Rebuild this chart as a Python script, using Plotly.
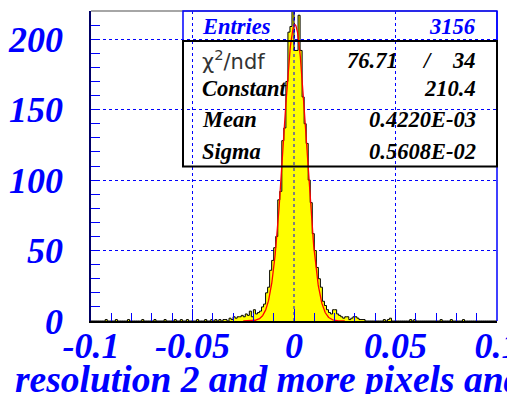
import numpy as np
import plotly.graph_objects as go

# histogram: 200 bins of 0.001 from -0.1 to 0.1
X_MIN, X_MAX, N_BINS = -0.1, 0.1, 200
counts = [
    0, 0, 0, 0, 0, 0, 0, 1, 0, 0,
    0, 0, 1, 0, 0, 0, 0, 0, 1, 0,
    0, 0, 0, 0, 0, 1, 0, 0, 0, 0,
    0, 1, 0, 0, 0, 0, 1, 0, 0, 0,
    0, 1, 0, 0, 1, 0, 0, 1, 0, 0,
    0, 0, 1, 0, 0, 0, 1, 0, 0, 1,
    0, 1, 0, 1, 0, 1, 1, 0, 2, 1,
    3, 2, 3, 3, 4, 3, 5, 4, 7, 3,
    8, 5, 6, 7, 10, 12, 20, 24, 36, 43,
    52, 60, 86, 92, 128, 137, 170, 205, 209, 226,
    192, 192, 217, 192, 159, 140, 126, 100, 84, 62,
    50, 38, 30, 24, 14, 11, 8, 6, 5, 8,
    8, 5, 4, 3, 2, 3, 3, 1, 2, 3,
    3, 2, 1, 1, 1, 0, 0, 0, 0, 0,
    0, 0, 0, 0, 1, 0, 1, 2, 0, 0,
    0, 0, 0, 0, 0, 0, 0, 1, 0, 1,
    0, 0, 0, 0, 0, 0, 0, 0, 0, 0,
    0, 0, 1, 0, 0, 0, 0, 1, 0, 0,
    0, 0, 0, 1, 0, 0, 0, 0, 0, 0,
    0, 0, 0, 0, 0, 0, 0, 0, 0, 0,
]

# gaussian fit parameters from the stats box
ENTRIES = 3156
CHI2, NDF = 76.71, 34
FIT_CONSTANT = 210.4
FIT_MEAN = 0.4220e-03
FIT_SIGMA = 0.5608e-02

x_tickvals = [-0.1, -0.05, 0, 0.05, 0.1]
x_ticktext = ["-0.1", "-0.05", "0", "0.05", "0.1"]
y_tickvals = [0, 50, 100, 150, 200]
x_title = "resolution 2 and more pixels and"

BLUE = "#0000ff"
SERIF = "Liberation Serif"

edges = np.linspace(X_MIN, X_MAX, N_BINS + 1)
fx = np.linspace(-0.025, 0.025, 401)
fy = FIT_CONSTANT * np.exp(-0.5 * ((fx - FIT_MEAN) / FIT_SIGMA) ** 2)

fig = go.Figure()
fig.add_trace(go.Scatter(x=edges, y=counts + [counts[-1]], mode="lines",
    line=dict(shape="hv", color="#000000", width=1), fill="tozeroy", fillcolor="#ffff00",
    showlegend=False, hoverinfo="skip"))
fig.add_trace(go.Scatter(x=fx, y=fy, mode="lines", line=dict(color="#ff0000", width=1.3),
    showlegend=False))

tickfont = dict(family=SERIF, size=36, color=BLUE, weight="bold", style="italic")
# page body has an 8px margin, so the figure is 8px smaller than the window
fig.update_layout(
    width=507, height=386, template="none",
    margin=dict(l=83, r=18, t=3, b=73),
    paper_bgcolor="white", plot_bgcolor="white",
    xaxis=dict(range=[X_MIN, X_MAX], tickvals=x_tickvals, ticktext=x_ticktext,
        ticks="inside", ticklen=12, tickcolor=BLUE, tickwidth=1, tickfont=tickfont,
        showline=True, linecolor="#000000", linewidth=1.5, automargin=False,
        showgrid=True, gridcolor=BLUE, griddash="dot", gridwidth=1, zeroline=False,
        ticklabelstandoff=-8, ticklabeloverflow="allow",
        minor=dict(dtick=0.01, tick0=-0.1, ticks="inside", ticklen=8, tickcolor=BLUE, showgrid=False)),
    yaxis=dict(range=[0, 220], tickvals=y_tickvals,
        ticks="inside", ticklen=9, tickcolor=BLUE, tickwidth=1, tickfont=tickfont,
        showline=True, linecolor="#000066", linewidth=1.5, automargin=False,
        showgrid=True, gridcolor=BLUE, griddash="dot", gridwidth=1, zeroline=False,
        ticklabelstandoff=19,
        minor=dict(dtick=10, ticks="inside", ticklen=9, tickcolor=BLUE, showgrid=False)),
)

# frame: top grey, right blue; grid line at 0 drawn over the histogram
fig.add_shape(type="line", xref="paper", yref="paper", x0=0, x1=1, y0=1, y1=1,
    line=dict(color="#888888", width=1.5))
fig.add_shape(type="line", xref="paper", yref="paper", x0=1, x1=1, y0=0, y1=1,
    line=dict(color=BLUE, width=1.5))
fig.add_shape(type="line", xref="x", yref="paper", x0=0, x1=0, y0=0, y1=1,
    line=dict(color=BLUE, width=1, dash="dot"), layer="above")

# stats box
bx0, bx1 = 0.2266, 1.0
fig.add_shape(type="rect", xref="paper", yref="paper", x0=bx0, x1=bx1, y0=0.9032, y1=1.0,
    line=dict(color=BLUE, width=1.5), fillcolor="rgba(0,0,0,0)")
fig.add_shape(type="rect", xref="paper", yref="paper", x0=bx0, x1=bx1, y0=0.4984, y1=0.9032,
    line=dict(color="#000000", width=2), fillcolor="rgba(0,0,0,0)")

boxfont = dict(family=SERIF, size=22.5, color="#000000", weight="bold", style="italic")
lx, rx = 0.2685, 0.9532
rows = [
    ("Entries", f"{ENTRIES}", 0.9516, BLUE),
    ("Constant", f"{FIT_CONSTANT}", 0.7484, "#000000"),
    ("Mean", "0.4220E-03", 0.6484, "#000000"),
    ("Sigma", "0.5608E-02", 0.5452, "#000000"),
]
for name, val, yy, col in rows:
    f = dict(boxfont, color=col)
    fig.add_annotation(text=name, x=lx, y=yy, xref="paper", yref="paper", xanchor="left",
        yanchor="middle", showarrow=False, font=f)
    fig.add_annotation(text=val, x=rx, y=yy, xref="paper", yref="paper", xanchor="right",
        yanchor="middle", showarrow=False, font=f)

fig.add_annotation(text="χ<sup>2</sup>/ndf", x=lx, y=0.8419, xref="paper", yref="paper",
    xanchor="left", yanchor="middle", showarrow=False,
    font=dict(family="DejaVu Sans", size=21, color="#333333"))
fig.add_annotation(text=f"{CHI2}", x=0.761, y=0.8419, xref="paper", yref="paper",
    xanchor="right", yanchor="middle", showarrow=False, font=boxfont)
fig.add_annotation(text="/", x=0.8276, y=0.8419, xref="paper", yref="paper",
    xanchor="center", yanchor="middle", showarrow=False, font=boxfont)
fig.add_annotation(text=f"{NDF}", x=rx, y=0.8419, xref="paper", yref="paper",
    xanchor="right", yanchor="middle", showarrow=False, font=boxfont)

# x title (clipped by the window like the original)
fig.add_annotation(text=x_title, x=-0.192, y=-0.116, xref="paper", yref="paper",
    xanchor="left", yanchor="top", showarrow=False,
    font=dict(family=SERIF, size=37.5, color=BLUE, weight="bold", style="italic"))

fig.write_html("out.html")
